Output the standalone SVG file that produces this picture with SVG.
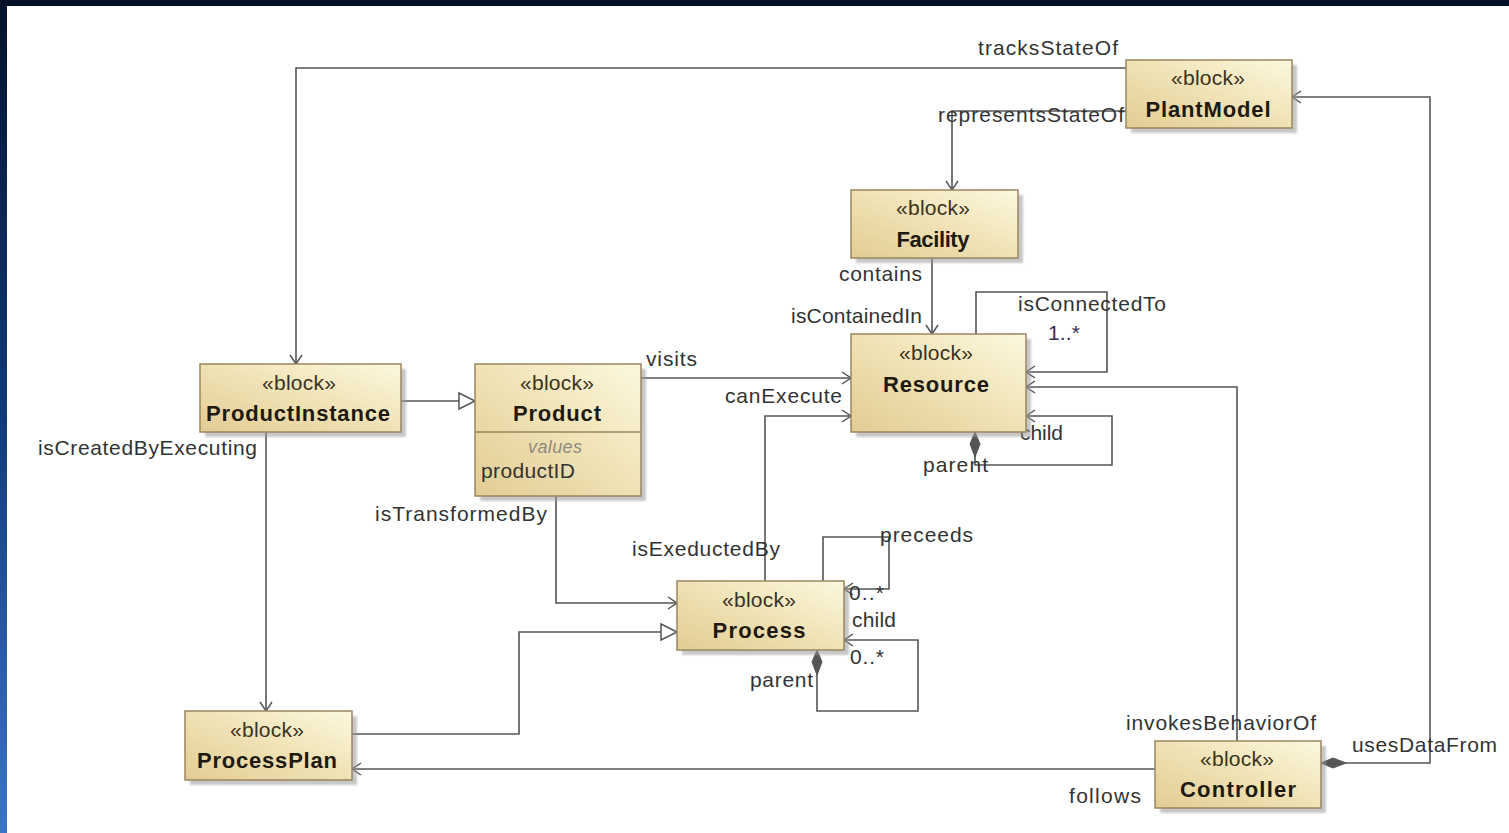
<svg xmlns="http://www.w3.org/2000/svg" width="1509" height="833" viewBox="0 0 1509 833">
  <defs>
    <linearGradient id="frameGrad" x1="0" y1="0" x2="0" y2="1">
      <stop offset="0" stop-color="#04122c"/>
      <stop offset="0.5" stop-color="#123a78"/>
      <stop offset="1" stop-color="#3d74c8"/>
    </linearGradient>
    <linearGradient id="blockFill" x1="0" y1="1" x2="1" y2="0">
      <stop offset="0" stop-color="#e2cc94"/>
      <stop offset="0.55" stop-color="#f1e4b8"/>
      <stop offset="1" stop-color="#fcf8df"/>
    </linearGradient>
    <filter id="soft" x="-10%" y="-10%" width="130%" height="130%">
      <feGaussianBlur stdDeviation="1.2"/>
    </filter>
    <marker id="open" viewBox="-11 -8 13 16" markerWidth="13" markerHeight="16" refX="0" refY="0" orient="auto" markerUnits="userSpaceOnUse">
      <path d="M-9,-6 L0,0 L-9,6" fill="none" stroke="#555" stroke-width="1.5"/>
    </marker>
    <marker id="hollow" viewBox="-18 -10 20 20" markerWidth="20" markerHeight="20" refX="0" refY="0" orient="auto" markerUnits="userSpaceOnUse">
      <path d="M-16,-8 L0,0 L-16,8 Z" fill="#fff" stroke="#555" stroke-width="1.5"/>
    </marker>
    <marker id="diamond" viewBox="-1 -7 28 14" markerWidth="28" markerHeight="14" refX="0" refY="0" orient="auto" markerUnits="userSpaceOnUse">
      <path d="M0,0 L12,-5 L25,0 L12,5 Z" fill="#555" stroke="#555" stroke-width="1"/>
    </marker>
  </defs>
  <style>
    .shadow { fill: #9a9a9a; opacity: 0.55; }
    .box { fill: url(#blockFill); stroke: #9a8660; stroke-width: 1.5; }
    .stereo { font-family: "Liberation Sans", Arial, sans-serif; font-size: 21px; fill: #3a3222; text-anchor: middle; }
    .name { font-family: "Liberation Sans", Arial, sans-serif; font-size: 22px; font-weight: bold; fill: #1e1a12; text-anchor: middle; }
    .lbl { font-family: "Liberation Sans", Arial, sans-serif; font-size: 21px; fill: #333; }
    .mult { font-family: "Liberation Sans", Arial, sans-serif; font-size: 21px; fill: #3a2c55; }
    .conn { fill: none; stroke: #555; stroke-width: 1.6; }
  </style>

  <!-- slide frame and canvas -->
  <rect x="0" y="0" width="1509" height="833" fill="url(#frameGrad)"/>
  <rect x="0" y="0" width="1509" height="6" fill="#02102a"/>
  <rect x="7" y="6" width="1502" height="827" fill="#ffffff"/>

  <!-- connectors -->
  <g id="connectors">
    <path class="conn" d="M1126,68 H296 V364" marker-end="url(#open)"/>
    <path class="conn" d="M1126,111 H952 V190" marker-end="url(#open)"/>
    <path class="conn" d="M1321,763 H1430 V97 H1292" marker-start="url(#diamond)" marker-end="url(#open)"/>
    <path class="conn" d="M932,258 V334" marker-end="url(#open)"/>
    <path class="conn" d="M976,334 V292 H1107 V372 H1026" marker-end="url(#open)"/>
    <path class="conn" d="M1237,741 V387 H1026" marker-end="url(#open)"/>
    <path class="conn" d="M975,432 V465 H1112 V416 H1026" marker-start="url(#diamond)" marker-end="url(#open)"/>
    <path class="conn" d="M401,401 H475" marker-end="url(#hollow)"/>
    <path class="conn" d="M641,378 H851" marker-end="url(#open)"/>
    <path class="conn" d="M765,581 V416 H851" marker-end="url(#open)"/>
    <path class="conn" d="M556,496 V603 H677" marker-end="url(#open)"/>
    <path class="conn" d="M352,734 H519 V632 H677" marker-end="url(#hollow)"/>
    <path class="conn" d="M823,581 V537 H889 V589 H844" marker-end="url(#open)"/>
    <path class="conn" d="M817,650 V711 H918 V640 H844" marker-start="url(#diamond)" marker-end="url(#open)"/>
    <path class="conn" d="M266,432 V711" marker-end="url(#open)"/>
    <path class="conn" d="M1155,769 H352" marker-end="url(#open)"/>

    <text class="lbl" x="978" y="55" textLength="140">tracksStateOf</text>
    <text class="lbl" x="938" y="122" textLength="186">representsStateOf</text>
    <text class="lbl" x="1352" y="752" textLength="145">usesDataFrom</text>
    <text class="lbl" x="1126" y="730" textLength="190">invokesBehaviorOf</text>
    <text class="lbl" x="1069" y="803" textLength="72">follows</text>
    <text class="lbl" x="839" y="281" textLength="83">contains</text>
    <text class="lbl" x="791" y="323" textLength="131">isContainedIn</text>
    <text class="lbl" x="1018" y="311" textLength="148">isConnectedTo</text>
    <text class="mult" x="1048" y="340" textLength="32">1..*</text>
    <text class="lbl" x="1020" y="440" textLength="43">child</text>
    <text class="lbl" x="923" y="472" textLength="65">parent</text>
    <text class="lbl" x="646" y="366" textLength="51">visits</text>
    <text class="lbl" x="725" y="403" textLength="117">canExecute</text>
    <text class="lbl" x="632" y="556" textLength="148">isExeductedBy</text>
    <text class="lbl" x="375" y="521" textLength="172">isTransformedBy</text>
    <text class="lbl" x="38" y="455" textLength="219">isCreatedByExecuting</text>
    <text class="lbl" x="880" y="542" textLength="93">preceeds</text>
    <text class="lbl" x="849" y="600" textLength="35">0..*</text>
    <text class="lbl" x="852" y="627" textLength="44">child</text>
    <text class="lbl" x="850" y="664" textLength="34">0..*</text>
    <text class="lbl" x="750" y="687" textLength="63">parent</text>
  </g>

  <!-- blocks -->
  <g id="PlantModel">
    <rect class="shadow" x="1131" y="65" width="166" height="68" filter="url(#soft)"/>
    <rect class="box" x="1126" y="60" width="166" height="68"/>
    <text class="stereo" x="1208" y="85" textLength="74">«block»</text>
    <text class="name" x="1208" y="117" textLength="125">PlantModel</text>
  </g>
  <g id="Facility">
    <rect class="shadow" x="856" y="195" width="167" height="68" filter="url(#soft)"/>
    <rect class="box" x="851" y="190" width="167" height="68"/>
    <text class="stereo" x="933" y="215" textLength="74">«block»</text>
    <text class="name" x="933" y="247" textLength="73">Facility</text>
  </g>
  <g id="Resource">
    <rect class="shadow" x="856" y="339" width="175" height="98" filter="url(#soft)"/>
    <rect class="box" x="851" y="334" width="175" height="98"/>
    <text class="stereo" x="936" y="360" textLength="74">«block»</text>
    <text class="name" x="936" y="392" textLength="106">Resource</text>
  </g>
  <g id="ProductInstance">
    <rect class="shadow" x="205" y="369" width="201" height="68" filter="url(#soft)"/>
    <rect class="box" x="200" y="364" width="201" height="68"/>
    <text class="stereo" x="299" y="390" textLength="74">«block»</text>
    <text class="name" x="298" y="421" textLength="184">ProductInstance</text>
  </g>
  <g id="Product">
    <rect class="shadow" x="480" y="369" width="166" height="132" filter="url(#soft)"/>
    <rect class="box" x="475" y="364" width="166" height="132"/>
    <line x1="475" y1="432" x2="641" y2="432" stroke="#9a8660" stroke-width="1.5"/>
    <text class="stereo" x="557" y="390" textLength="74">«block»</text>
    <text class="name" x="557" y="421" textLength="88">Product</text>
    <text x="555" y="453" font-family="'Liberation Sans', Arial, sans-serif" font-size="18" font-style="italic" fill="#8e8a80" text-anchor="middle" textLength="54">values</text>
    <text class="lbl" x="481" y="478" textLength="94">productID</text>
  </g>
  <g id="Process">
    <rect class="shadow" x="682" y="586" width="167" height="69" filter="url(#soft)"/>
    <rect class="box" x="677" y="581" width="167" height="69"/>
    <text class="stereo" x="759" y="607" textLength="74">«block»</text>
    <text class="name" x="759" y="638" textLength="93">Process</text>
  </g>
  <g id="ProcessPlan">
    <rect class="shadow" x="190" y="716" width="167" height="69" filter="url(#soft)"/>
    <rect class="box" x="185" y="711" width="167" height="69"/>
    <text class="stereo" x="267" y="737" textLength="74">«block»</text>
    <text class="name" x="267" y="768" textLength="140">ProcessPlan</text>
  </g>
  <g id="Controller">
    <rect class="shadow" x="1160" y="746" width="166" height="67" filter="url(#soft)"/>
    <rect class="box" x="1155" y="741" width="166" height="67"/>
    <text class="stereo" x="1237" y="766" textLength="74">«block»</text>
    <text class="name" x="1238" y="797" textLength="116">Controller</text>
  </g>
</svg>
